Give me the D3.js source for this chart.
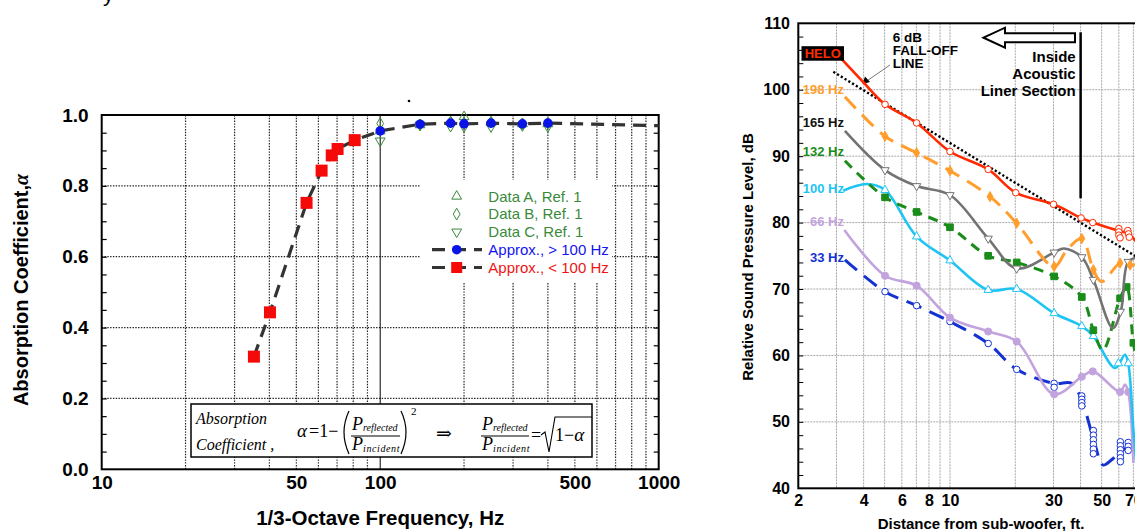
<!DOCTYPE html>
<html>
<head>
<meta charset="utf-8">
<script src="https://cdn.jsdelivr.net/npm/d3@7"></script>
<style>
  body { margin: 0; background: #fff; }
  svg { display: block; font-family: "Liberation Sans", Arial, sans-serif; }
</style>
</head>
<body>
<svg id="chart" width="1135" height="531"></svg>
<script>
// ---------- left chart: absorption coefficient vs frequency ----------
const redFreq = [35.2, 40.2, 54.4, 61.6, 67, 70.3, 81];
const redAlpha = [0.318, 0.443, 0.752, 0.843, 0.886, 0.904, 0.929];
const blueFreq = [100, 139, 179, 200, 250, 324, 400];
const blueAlpha = [0.955, 0.974, 0.977, 0.975, 0.977, 0.975, 0.977];
const approxTail = [1000, 0.970];
const dataA = [0.955, 0.972, 0.980, 0.995, 0.978, 0.975, 0.975];
const dataB = [0.976, 0.972, 0.980, 0.978, 0.980, 0.975, 0.977];
const dataC = [0.927, 0.972, 0.968, 0.967, 0.967, 0.970, 0.967];
const freqTicks = [10, 50, 100, 500, 1000];
const alphaTicks = [0, 0.2, 0.4, 0.6, 0.8, 1.0];
const freqGrid = [20, 30, 40, 50, 60, 70, 80, 90, 200, 300, 400, 500, 600, 700, 800, 900];
const alphaGrid = [0.2, 0.4, 0.6, 0.8];

// ---------- right chart: SPL vs distance ----------
const heloLine = [[3.17,104.6],[3.97,101.2],[5.02,97.8],[7.02,95.0],[10,90.7],[15,88.0],[20.1,84.5],[30,82.75],[40.2,80.7],[45.5,80.0],[60.8,78.7],[66.1,78.4],[75,76.6],[90,75]];
const heloMarks = [[5.02,97.8],[7.02,95.0],[10,90.7],[15,88.0],[20.1,84.5],[30,82.75],[40.2,80.7],[45.5,80.0],[60,79.1],[60,78.6],[60,78.1],[60.8,77.7],[66,78.8],[66.5,78.3],[67,77.8]];
const hz198Line = [[3.28,98.95],[5.02,93.0],[7.02,90.5],[10,87.8],[15.3,83.9],[20.3,79.9],[30.2,73.4],[34.6,75.9],[40.5,77.6],[45.8,72.9],[50,71.1],[60.8,73.9],[67.6,73.6],[80,74]];
const hz198Marks = [[5.02,93.0],[7.02,90.5],[10,87.8],[15.3,83.9],[20.3,79.9],[30.2,73.4],[40.5,77.6],[45.8,72.9],[60.8,73.9],[67.6,73.6]];
const hz165Line = [[3.28,93.8],[5.02,87.9],[7.02,85.5],[10,84.15],[15,77.6],[20.3,73.1],[30.2,75.5],[33.5,76.1],[40.5,74.8],[45.8,71.4],[56.3,64.1],[61.4,66.8],[66.3,74.1],[75,74.8]];
const hz165Marks = [[5.02,87.9],[7.02,85.5],[10,84.15],[15,77.6],[20.3,73.1],[30.2,75.5],[40.5,74.8],[45.8,71.4],[61,66.6],[66.3,74.1]];
const hz132Line = [[3.28,89.3],[5.02,83.8],[7.02,81.6],[10,79.3],[15,75.0],[20.3,74.0],[30.2,71.9],[40.5,68.8],[45.8,63.8],[50.7,60.8],[60.8,68.6],[65.2,70.3],[70,61.9],[75,57]];
const hz132Marks = [[5.02,83.8],[7.02,81.6],[10,79.3],[15,75.0],[20.3,74.0],[30.2,71.9],[40.5,68.8],[45.8,63.8],[60.8,68.6],[65.2,70.3],[70,61.9]];
const hz100Line = [[3.22,84.8],[4.13,85.8],[5.02,84.9],[7.02,77.9],[10,74.3],[15,69.85],[20.3,70.0],[30.2,66.35],[40.5,64.4],[45.8,62.9],[57.7,58.1],[64.0,60.1],[66.3,58.8],[70,48.8],[73,42]];
const hz100Marks = [[5.02,84.9],[7.02,77.9],[10,74.3],[15,69.85],[20.3,70.0],[30.2,66.35],[40.5,64.4],[45.8,62.9],[59.7,58.8],[66.3,58.8]];
const hz66Line = [[3.26,78.9],[5.02,72.0],[7.02,70.5],[10,65.7],[15,63.6],[20.3,62.1],[30.2,54.15],[40.5,56.8],[45.5,57.6],[60.8,54.5],[64,55.6],[66.3,54.5],[70,43.8]];
const hz66Marks = [[5.02,72.0],[7.02,70.5],[10,65.7],[15,63.6],[20.3,62.1],[30.2,54.15],[40.5,56.8],[45.5,57.6],[60.8,54.5],[66.3,54.5]];
const hz33Line = [[3.28,74.4],[5.02,69.6],[7.02,67.5],[10,65.1],[15,61.8],[20.3,57.9],[30.2,55.8],[36.4,55.8],[40.5,53.2],[45.8,47.5],[50.8,43.5],[55.6,44.3],[61,45.5],[66.3,46.2],[75,46.2]];
const hz33Marks = [[5.02,69.6],[7.02,67.5],[10,65.1],[15,61.8],[20.3,57.9],[30.2,55.8],[30.2,55.2],[40.5,53.9],[40.5,53.4],[40.5,52.9],[40.5,52.4],[45.8,48.7],[45.8,48.0],[45.8,47.3],[45.8,46.6],[45.8,45.9],[45.8,45.2],[61,47.0],[61,46.4],[61,45.8],[61,45.2],[61,44.6],[61,44.0],[66.3,46.9],[66.3,46.3],[66.3,45.7]];
const fallOff = [[2.9,102.7],[100,72.05]];
const distTicks = [2, 4, 6, 8, 10, 30, 50, 70];
const distGrid = [3,4,5,6,7,8,9,10,20,30,40,50,60,70,80,90];
const splTicks = [40, 50, 60, 70, 80, 90, 100, 110];
const splGrid = [50, 60, 70, 80, 90, 100];

const svg = d3.select("#chart");

// stray fragments of the surrounding page
svg.append("text").attr("x", 103).attr("y", 1).attr("font-size", 22).text("y");
svg.append("circle").attr("cx", 409).attr("cy", 101).attr("r", 1.3).attr("fill", "#000");

// ================= LEFT =================
const L = svg.append("g");
const xL = d3.scaleLog().domain([10, 1000]).range([101.7, 658.7]);
const yL = d3.scaleLinear().domain([0, 1]).range([469.3, 115]);

const dotted = g => g.attr("stroke", "#222").attr("stroke-width", 1.2).attr("stroke-dasharray", "1.4,1.4");

L.selectAll(".vg").data(freqGrid).join("line")
  .attr("x1", d => xL(d)).attr("x2", d => xL(d))
  .attr("y1", yL(1)).attr("y2", yL(0)).call(dotted);
L.selectAll(".hg").data(alphaGrid).join("line")
  .attr("x1", xL(10)).attr("x2", xL(1000))
  .attr("y1", d => yL(d)).attr("y2", d => yL(d)).call(dotted);
L.append("line")
  .attr("x1", xL(100)).attr("x2", xL(100)).attr("y1", yL(1)).attr("y2", yL(0))
  .attr("stroke", "#000").attr("stroke-width", 1);

// minor ticks inside on both sides
const minor = d3.range(1, 20).map(i => i * 0.05);
L.append("g").attr("transform", `translate(${xL(10)},0)`)
  .call(d3.axisLeft(yL).tickValues(minor).tickSize(-5).tickFormat(""))
  .call(g => g.select(".domain").remove())
  .call(g => g.selectAll("line").attr("stroke-width", 1.2));
L.append("g").attr("transform", `translate(${xL(1000)},0)`)
  .call(d3.axisRight(yL).tickValues(minor).tickSize(-5).tickFormat(""))
  .call(g => g.select(".domain").remove())
  .call(g => g.selectAll("line").attr("stroke-width", 1.2));

// tick labels
L.append("g").attr("transform", `translate(${xL(10)},0)`)
  .call(d3.axisLeft(yL).tickValues(alphaTicks).tickSize(0).tickPadding(13).tickFormat(d3.format(".1f")))
  .call(g => g.select(".domain").remove())
  .call(g => g.selectAll("text").attr("font-size", 19).attr("font-weight", "bold").attr("font-family", "Liberation Sans, Arial").attr("fill", "#000"));
L.append("g").attr("transform", `translate(0,${yL(0)})`)
  .call(d3.axisBottom(xL).tickValues(freqTicks).tickSize(0).tickPadding(6).tickFormat(d3.format("d")))
  .call(g => g.select(".domain").remove())
  .call(g => g.selectAll("text").attr("font-size", 19).attr("font-weight", "bold").attr("font-family", "Liberation Sans, Arial").attr("fill", "#000"));

// axis titles
L.append("text").attr("x", (xL(10) + xL(1000)) / 2 + 0).attr("y", 525)
  .attr("text-anchor", "middle").attr("font-size", 20.5).attr("font-weight", "bold")
  .text("1/3-Octave Frequency, Hz");
const yt = L.append("text").attr("transform", "translate(28,290) rotate(-90)")
  .attr("text-anchor", "middle").attr("font-size", 20).attr("font-weight", "bold");
yt.append("tspan").text("Absorption Coefficient,");
yt.append("tspan").attr("font-style", "italic").attr("font-family", "Liberation Serif, serif").text("α");

// legend background hides grid
L.append("rect").attr("x", 420).attr("y", 180).attr("width", 192).attr("height", 103).attr("fill", "#fff");

// formula box
const fb = L.append("g").attr("font-family", "Liberation Serif, 'DejaVu Serif', serif").attr("font-style", "italic");
fb.append("rect").attr("x", 191).attr("y", 404).attr("width", 401).attr("height", 53)
  .attr("fill", "#fff").attr("stroke", "#000").attr("stroke-width", 1.5);
fb.append("text").attr("x", 196).attr("y", 424).attr("font-size", 16).text("Absorption");
fb.append("text").attr("x", 196).attr("y", 450).attr("font-size", 16).text("Coefficient ,");
fb.append("text").attr("x", 297).attr("y", 437).attr("font-size", 19).text("α");
fb.append("text").attr("x", 309).attr("y", 437).attr("font-size", 18).attr("font-style", "normal").text("=1−");
fb.append("path").attr("d", "M349,411 Q339,432 349,454").attr("fill", "none").attr("stroke", "#000").attr("stroke-width", 1.2);
fb.append("path").attr("d", "M401,411 Q411,432 401,454").attr("fill", "none").attr("stroke", "#000").attr("stroke-width", 1.2);
fb.append("text").attr("x", 411).attr("y", 415).attr("font-size", 11).attr("font-style", "normal").text("2");
const frac = (x0, w) => {
  fb.append("text").attr("x", x0).attr("y", 430).attr("font-size", 18).text("P")
    .append("tspan").attr("font-size", 10).attr("dy", 1).text("reflected");
  fb.append("line").attr("x1", x0 - 1).attr("x2", x0 + w).attr("y1", 436).attr("y2", 436).attr("stroke", "#000").attr("stroke-width", 1);
  fb.append("text").attr("x", x0).attr("y", 450).attr("font-size", 18).text("P")
    .append("tspan").attr("font-size", 10).attr("dy", 2).attr("letter-spacing", 0.6).text("incident");
};
frac(352, 48);
frac(482, 47);
fb.append("text").attr("x", 436).attr("y", 440).attr("font-size", 19).attr("font-style", "normal").text("⇒");
fb.append("text").attr("x", 531).attr("y", 441).attr("font-size", 18).attr("font-style", "normal").text("=");
fb.append("path").attr("d", "M541,435 L545,432 L549,452 L555,417 L592,417").attr("fill", "none").attr("stroke", "#000").attr("stroke-width", 1.1);
fb.append("text").attr("x", 555).attr("y", 441).attr("font-size", 18).attr("font-style", "normal").text("1−")
  .append("tspan").attr("font-style", "italic").attr("font-size", 19).text("α");

// frame
L.append("rect").attr("x", xL(10)).attr("y", yL(1)).attr("width", xL(1000) - xL(10)).attr("height", yL(0) - yL(1))
  .attr("fill", "none").attr("stroke", "#000").attr("stroke-width", 2);

// green reference data
const green = "#3a8a3a";
const triUp = d3.symbol().type(d3.symbolTriangle).size(42)();
const diamond = d3.symbol().type(d3.symbolDiamond).size(40)();
[[dataA, triUp, 0], [dataB, diamond, 0], [dataC, triUp, 180]].forEach(([vals, shape, rot]) => {
  L.append("g").selectAll("path").data(vals).join("path")
    .attr("d", shape)
    .attr("transform", (d, i) => `translate(${xL(blueFreq[i])},${yL(d)}) rotate(${rot})`)
    .attr("fill", "none").attr("stroke", green).attr("stroke-width", 1);
});

// approximation line
const approxPts = redFreq.map((f, i) => [f, redAlpha[i]])
  .concat(blueFreq.map((f, i) => [f, blueAlpha[i]]), [approxTail]);
L.append("path").datum(approxPts)
  .attr("d", d3.line().x(d => xL(d[0])).y(d => yL(d[1])))
  .attr("fill", "none").attr("stroke", "#333").attr("stroke-width", 3.2).attr("stroke-dasharray", "13,8");

L.selectAll(".rsq").data(redFreq).join("rect")
  .attr("x", (d, i) => xL(d) - 6).attr("y", (d, i) => yL(redAlpha[i]) - 6)
  .attr("width", 12).attr("height", 12).attr("fill", "#f50a0a");
L.selectAll(".bci").data(blueFreq).join("circle")
  .attr("cx", d => xL(d)).attr("cy", (d, i) => yL(blueAlpha[i])).attr("r", 4.8).attr("fill", "#0a14e6");

// legend
const legendRows = [
  { label: "Data A, Ref. 1", color: green, kind: "triUp" },
  { label: "Data B, Ref. 1", color: green, kind: "diamond" },
  { label: "Data C, Ref. 1", color: green, kind: "triDown" },
  { label: "Approx., > 100 Hz", color: "#1414f0", kind: "circle" },
  { label: "Approx., < 100 Hz", color: "#f01414", kind: "square" }
];
const lg = L.append("g");
legendRows.forEach((r, i) => {
  const cy = 196.3 + i * 17.8;
  const sx = 456.7;
  if (r.kind === "triUp" || r.kind === "triDown" || r.kind === "diamond") {
    lg.append("path").attr("d", r.kind === "diamond" ? diamond : triUp)
      .attr("transform", `translate(${sx},${cy}) rotate(${r.kind === "triDown" ? 180 : 0})`)
      .attr("fill", "none").attr("stroke", green).attr("stroke-width", 1);
  } else {
    lg.append("line").attr("x1", 432).attr("x2", 482).attr("y1", cy).attr("y2", cy)
      .attr("stroke", "#333").attr("stroke-width", 3.2).attr("stroke-dasharray", "13,8");
    if (r.kind === "circle") lg.append("circle").attr("cx", sx).attr("cy", cy).attr("r", 4.8).attr("fill", "#0a14e6");
    else lg.append("rect").attr("x", sx - 5.5).attr("y", cy - 5.5).attr("width", 11).attr("height", 11).attr("fill", "#f50a0a");
  }
  lg.append("text").attr("x", 488.3).attr("y", cy + 5.3).attr("font-size", 15).attr("fill", r.color).text(r.label);
});

// ================= RIGHT =================
const R = svg.append("g");
const xR = d3.scaleLog().domain([2, 100]).range([798.3, 798.3 + 217 * Math.log10(50)]);
const yR = d3.scaleLinear().domain([40, 110]).range([488.3, 23.3]);

const gray = g => g.attr("stroke", "#a8a8a8").attr("stroke-width", 1).attr("stroke-dasharray", "2,1");
R.selectAll(".vg").data(distGrid).join("line")
  .attr("x1", d => xR(d)).attr("x2", d => xR(d)).attr("y1", yR(110)).attr("y2", yR(40)).call(gray);
R.selectAll(".hg").data(splGrid).join("line")
  .attr("x1", xR(2)).attr("x2", xR(100)).attr("y1", d => yR(d)).attr("y2", d => yR(d)).call(gray);

R.append("g").attr("transform", `translate(${xR(2)},0)`)
  .call(d3.axisLeft(yR).tickValues(d3.range(42, 110, 2)).tickSize(-5).tickFormat(""))
  .call(g => g.select(".domain").remove());

R.append("g").attr("transform", `translate(${xR(2)},0)`)
  .call(d3.axisLeft(yR).tickValues(splTicks).tickSize(0).tickPadding(8.3).tickFormat(d3.format("d")))
  .call(g => g.select(".domain").remove())
  .call(g => g.selectAll("text").attr("font-size", 16).attr("font-weight", "bold").attr("font-family", "Liberation Sans, Arial").attr("fill", "#000"));
R.append("g").attr("transform", `translate(0,${yR(40)})`)
  .call(d3.axisBottom(xR).tickValues(distTicks).tickSize(0).tickPadding(6.7).tickFormat(d3.format("d")))
  .call(g => g.select(".domain").remove())
  .call(g => g.selectAll("text").attr("font-size", 16).attr("font-weight", "bold").attr("font-family", "Liberation Sans, Arial").attr("fill", "#000"));

R.append("text").attr("x", 981).attr("y", 529).attr("text-anchor", "middle")
  .attr("font-size", 15).attr("font-weight", "bold").text("Distance from sub-woofer, ft.");
R.append("text").attr("transform", "translate(753,257) rotate(-90)").attr("text-anchor", "middle")
  .attr("font-size", 15).attr("font-weight", "bold").text("Relative Sound Pressure Level, dB");

R.append("rect").attr("x", xR(2)).attr("y", yR(110)).attr("width", xR(100) - xR(2)).attr("height", yR(40) - yR(110))
  .attr("fill", "none").attr("stroke", "#000").attr("stroke-width", 2);

// liner section annotation
R.append("line").attr("x1", xR(40)).attr("x2", xR(40)).attr("y1", 32.3).attr("y2", 198.3)
  .attr("stroke", "#000").attr("stroke-width", 2.5);
R.append("polygon")
  .attr("points", "983.5,37.7 1005,27.7 1005,33.3 1075,33.3 1075,42.3 1005,42.3 1005,47.7")
  .attr("fill", "#fff").attr("stroke", "#000").attr("stroke-width", 2);
["Inside", "Acoustic", "Liner Section"].forEach((t, i) => {
  R.append("text").attr("x", 1075.7).attr("y", 62 + i * 17).attr("text-anchor", "end")
    .attr("font-size", 15).attr("font-weight", "bold").text(t);
});

// 6 dB fall-off line
R.append("path").datum(fallOff)
  .attr("d", d3.line().x(d => xR(d[0])).y(d => yR(d[1])))
  .attr("stroke", "#000").attr("stroke-width", 2.4).attr("stroke-dasharray", "2.2,2.2").attr("fill", "none");
["6 dB", "FALL-OFF", "LINE"].forEach((t, i) => {
  R.append("text").attr("x", 892.7).attr("y", 42 + i * 13).attr("font-size", 13.5).attr("font-weight", "bold").text(t);
});
R.append("line").attr("x1", 890).attr("y1", 65).attr("x2", 866).attr("y2", 81.5).attr("stroke", "#777").attr("stroke-width", 1);
R.append("polygon").attr("points", "862.5,84 865,76.5 870,82").attr("fill", "#000");

const rightSeries = [
  { line: hz33Line, marks: hz33Marks, color: "#1432d2", dash: "16,9", shape: "circleOpen" },
  { line: hz66Line, marks: hz66Marks, color: "#c3a3de", dash: null, shape: "circle" },
  { line: hz100Line, marks: hz100Marks, color: "#1ec4f2", dash: null, shape: "triUpOpen" },
  { line: hz132Line, marks: hz132Marks, color: "#1a8c1a", dash: "10,7", shape: "square" },
  { line: hz165Line, marks: hz165Marks, color: "#737373", dash: null, shape: "triDownOpen" },
  { line: hz198Line, marks: hz198Marks, color: "#ff9e2c", dash: "16,9", shape: "diamond" },
  { line: heloLine, marks: heloMarks, color: "#ff2a00", dash: null, shape: "circleOpen" }
];
const curve = d3.line().x(d => xR(d[0])).y(d => yR(d[1])).curve(d3.curveCatmullRom.alpha(0.5));
const shapes = {
  circleOpen: d3.symbol().type(d3.symbolCircle).size(34)(),
  circle: d3.symbol().type(d3.symbolCircle).size(40)(),
  triUpOpen: d3.symbol().type(d3.symbolTriangle).size(30)(),
  triDownOpen: d3.symbol().type(d3.symbolTriangle).size(30)(),
  square: d3.symbol().type(d3.symbolSquare).size(44)(),
  diamond: d3.symbol().type(d3.symbolDiamond).size(30)()
};
rightSeries.forEach(s => {
  R.append("path").datum(s.line).attr("d", curve)
    .attr("fill", "none").attr("stroke", s.color).attr("stroke-width", s.dash ? 3 : 2.6)
    .attr("stroke-dasharray", s.dash);
  const open = s.shape.endsWith("Open");
  R.append("g").selectAll("path").data(s.marks).join("path")
    .attr("d", shapes[s.shape])
    .attr("transform", d => `translate(${xR(d[0])},${yR(d[1])}) rotate(${s.shape === "triDownOpen" ? 180 : 0})`)
    .attr("fill", open ? "#fff" : s.color).attr("stroke", s.color).attr("stroke-width", 1);
});

// series labels
R.append("rect").attr("x", 801.5).attr("y", 46.2).attr("width", 42.5).attr("height", 14.5).attr("fill", "#000");
R.append("text").attr("x", 822.8).attr("y", 58).attr("text-anchor", "middle").attr("font-size", 13)
  .attr("font-weight", "bold").attr("fill", "#ff2a00").text("HELO");
const seriesLabels = [
  { t: "198 Hz", c: "#ff9e2c", x: 802.7, y: 94 },
  { t: "165 Hz", c: "#111", x: 802.7, y: 127 },
  { t: "132 Hz", c: "#1a8c1a", x: 802.7, y: 156 },
  { t: "100 Hz", c: "#1ec4f2", x: 802.7, y: 193 },
  { t: "66 Hz", c: "#c3a3de", x: 810, y: 226 },
  { t: "33 Hz", c: "#1432d2", x: 810, y: 262 }
];
R.selectAll(".sl").data(seriesLabels).join("text")
  .attr("x", d => d.x).attr("y", d => d.y).attr("fill", d => d.c)
  .attr("font-size", 13).attr("font-weight", "bold").text(d => d.t);
</script>
</body>
</html>
